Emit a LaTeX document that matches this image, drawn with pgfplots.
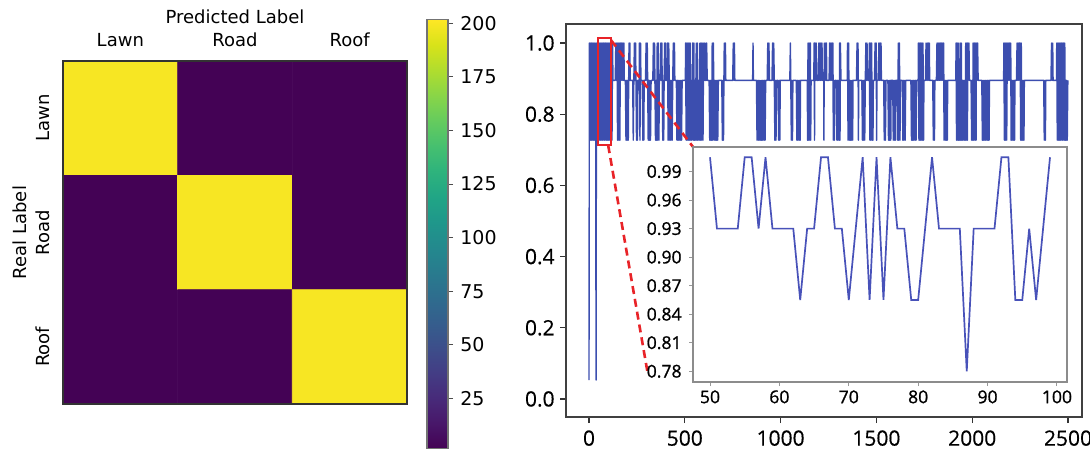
\documentclass[border=0pt]{standalone}
\usepackage{fontspec}
\setmainfont{DejaVu Sans}
\newfontfamily\osans[FakeBold=0.4]{Open Sans}
\newfontfamily\osansb[FakeBold=1.0]{Open Sans}
\usepackage{pgfplots}
\pgfplotsset{compat=1.18}
\definecolor{lineblue}{RGB}{60,78,175}
\definecolor{insetblue}{RGB}{72,82,185}
\definecolor{zoomred}{RGB}{232,35,40}
\pgfkeys{/pgf/number format/1000 sep={}}
\begin{document}
\begin{tikzpicture}[x=1pt,y=1pt]
\path[use as bounding box] (0,0) rectangle (545,226);
% ---------------- confusion matrix ----------------
\begin{axis}[at={(31.5pt,24pt)}, anchor=south west, scale only axis,
  width=172pt, height=171.5pt,
  xmin=-0.5, xmax=2.5, ymin=-0.5, ymax=2.5, y dir=reverse,
  xtick={0,1,2}, ytick={0,1,2},
  xticklabels={Lawn,Road,Roof}, yticklabels={Lawn,Road,Roof},
  xticklabel pos=top, major tick length=0pt,
  colormap/viridis, point meta min=1.6, point meta max=201.8,
  axis on top, axis line style={black!80, line width=0.6pt},
  tick label style={font=\fontsize{9}{10}\selectfont, inner sep=0pt},
  xticklabel style={anchor=south}, xticklabel shift=7pt,
  yticklabel style={rotate=90, anchor=south}, yticklabel shift=6.5pt,
  xlabel={Predicted Label}, ylabel={Real Label},
  xlabel style={at={(axis description cs:0.5,1.1079)}, anchor=south, inner sep=0pt, font=\fontsize{9}{10}\selectfont},
  ylabel style={at={(axis description cs:-0.1047,0.5)}, anchor=south, inner sep=0pt, font=\fontsize{9}{10}\selectfont},
]
\addplot[matrix plot*, mesh/cols=3, point meta=explicit] table[meta=C]{
x y C
0 0 200
1 0 2
2 0 2
0 1 2
1 1 200
2 1 2
0 2 2
1 2 2
2 2 200
};
\end{axis}
% ---------------- colorbar ----------------
\begin{axis}[at={(213.5pt,1.75pt)}, anchor=south west, scale only axis,
  width=10.5pt, height=214.5pt,
  xmin=0, xmax=1, ymin=1.6, ymax=201.8,
  xtick=\empty, ytick={25,50,75,100,125,150,175,200},
  ytick pos=right, yticklabel pos=right, tick align=outside, major tick length=2.5pt,
  colormap/viridis, point meta min=1.6, point meta max=201.8,
  axis on top, axis line style={black!55, line width=0.6pt},
  ytick style={black!70, line width=0.5pt},
  yticklabel style={font=\fontsize{9.5}{11}\selectfont, inner sep=0pt},
  yticklabel shift=3.5pt,
  /pgf/number format/assume math mode=true,
]
\addplot[surf, shader=interp, point meta=y, mesh/cols=2] coordinates {(0,1.6) (1,1.6) (0,201.8) (1,201.8)};
\end{axis}
% ---------------- main series ----------------
\begin{axis}[at={(283pt,17.5pt)}, anchor=south west, scale only axis,
  width=258pt, height=196.5pt,
  xmin=-120, xmax=2573, ymin=-0.0506, ymax=1.0534,
  xtick={0,500,1000,1500,2000,2500}, ytick={0,0.2,0.4,0.6,0.8,1},
  tick align=outside, major tick length=3pt, tick pos=left,
  axis line style={black!75, line width=0.6pt},
  every tick/.style={black!80, line width=0.6pt},
  tick label style={font=\osans\fontsize{10.5}{12}\selectfont, inner sep=0pt},
  xticklabel shift=3.5pt, yticklabel shift=2.5pt,
  yticklabel style={/pgf/number format/.cd, fixed, fixed zerofill, precision=1},
  scaled ticks=false,
  /pgf/number format/assume math mode=true,
]
\addplot[lineblue, line width=0.7pt, line join=round] coordinates {
(0,.053)(2,1)(5,.727)(8,1)(11,.727)(14,1)(17,.727)(20,1)(23,.727)(26,1)(29,.727)(32,1)(35,.727)(37,.053)(39,1)(42,.727)(45,1)(48,.727)(51,1)(54,.727)(57,1)(60,.727)(63,1)(66,.727)(69,1)(72,.727)(75,1)(78,.727)(81,1)(84,.727)(87,1)(90,.727)(93,1)(96,.727)(99,1)(102,.727)(105,1)(108,.727)(111,1)(114,.727)(117,1)(120,.727)(123,1)(125,.895)
(137,.895)(140,1)(143,.895)(146,1)(149,.727)(152,1)(155,.727)(158,1)(161,.727)(164,1)(167,.895)(170,1)(173,.895)(176,1)(179,.895)(182,1)(184,.895)
(190,.895)(193,.727)(196,.895)(199,.727)(202,.895)(205,.727)(207,.895)(209,1)(211,.895)(213,1)(215,.895)
(228,.895)(231,.727)(234,.895)(237,1)(240,.895)(243,1)(245,.895)(248,.727)(251,.895)(253,.727)(255,.895)
(262,.895)(263,1)(266,.727)(269,1)(271,.895)
(278,.895)(281,.727)(284,.895)(286,.727)(288,.895)
(295,.895)(298,1)(301,.895)(304,1)(306,.895)(309,.727)(312,.895)(315,.727)(318,.895)(321,.727)(324,.895)
(333,.895)(336,1)(339,.895)(342,1)(344,.895)(347,.727)(350,.895)(353,.727)(355,.895)(356,1)(359,.727)(362,1)(365,.727)(367,.895)
(372,.895)(375,1)(378,.895)(380,1)(382,.895)(385,.727)(388,.895)(390,.727)(392,.895)(395,1)(398,.895)(400,1)(402,.895)
(409,.895)(410,1)(413,.727)(416,1)(419,.895)(422,.727)(425,.895)(428,.727)(431,.895)(434,.727)(437,.895)(440,1)(443,.895)(446,1)(448,.895)
(456,.895)(459,.727)(462,.895)(465,.727)(468,.895)(471,.727)(474,.895)(477,.727)(480,.895)(483,.727)(486,.895)
(503,.895)(504,1)(507,.727)(510,1)(513,.727)(516,1)(519,.727)(522,1)(525,.727)(528,1)(531,.727)(533,.895)(536,.727)(539,.895)
(541,1)(544,.727)(547,1)(550,.727)(552,.895)(555,.727)(558,.895)(560,1)(563,.727)(566,1)(569,.727)(572,.895)(575,.727)(578,.895)
(579,1)(582,.727)(585,1)(588,.727)(591,1)(593,.895)(595,.727)(597,.895)(599,1)(602,.895)(605,1)(607,.895)
(612,.895)(614,1)(617,.895)
(627,.895)(630,.727)(633,.895)(636,.727)(639,.895)(641,.727)(643,1)(646,.727)(649,1)(651,.895)(654,.727)(657,.895)(660,.727)(663,.895)(666,.727)(669,.895)(672,.727)(675,.895)
(693,.895)(696,.727)(699,.895)(702,.727)(704,.895)(706,1)(709,.895)(712,1)(714,.895)
(750,.895)(753,1)(756,.895)(759,1)(761,.895)
(854,.895)(856,1)(858,.895)
(874,.895)(877,.727)(880,.895)(883,.727)(886,.895)(889,.727)(892,.895)(895,.727)(898,.895)(901,.727)(904,.895)(907,.727)(910,.895)(913,.727)(916,.895)(919,.727)(922,.895)
(930,.895)(933,1)(936,.895)(939,1)(942,.895)
(955,.895)(958,1)(961,.895)(964,1)(967,.895)(970,.727)(973,.895)(976,.727)(979,.895)
(987,.895)(990,.727)(993,.895)(996,.727)(998,.895)
(1048,.895)(1051,1)(1053,.895)(1056,.727)(1059,.895)(1062,.727)(1064,.895)
(1082,.895)(1085,.727)(1088,.895)(1091,.727)(1094,.895)(1097,.727)(1100,.895)(1102,.727)(1104,.895)
(1139,.895)(1141,.727)(1143,1)(1146,.727)(1149,1)(1152,.727)(1155,1)(1157,.727)(1159,.895)
(1173,.895)(1175,1)(1177,.727)(1179,1)(1182,.895)(1185,1)(1188,.895)
(1196,.895)(1199,1)(1202,.895)(1205,1)(1208,.895)(1211,1)(1214,.895)(1216,1)(1218,.895)
(1225,.895)(1226,.727)(1228,1)(1231,.895)(1234,1)(1237,.895)(1239,1)(1241,.895)
(1253,.895)(1256,1)(1259,.895)(1262,1)(1265,.895)(1268,1)(1271,.895)(1273,1)(1275,.727)(1278,.895)(1281,.727)(1283,.895)
(1291,.895)(1294,.727)(1297,.895)(1300,.727)(1303,.895)(1306,.727)(1308,1)(1310,.727)(1312,1)(1315,.895)
(1348,.895)(1349,1)(1352,.727)(1355,1)(1358,.727)(1361,.895)(1364,.727)(1367,.895)(1370,.727)(1373,.895)(1376,.727)(1378,.895)
(1396,.895)(1399,1)(1402,.895)(1404,1)(1406,.727)(1408,.895)
(1424,.895)(1427,.727)(1430,.895)(1433,.727)(1436,.895)(1439,.727)(1442,.895)(1445,1)(1448,.895)(1451,1)(1454,.895)
(1462,.895)(1463,1)(1466,.727)(1469,1)(1472,.727)(1475,1)(1478,.727)(1480,.895)(1482,.727)(1484,.895)
(1490,.895)(1493,1)(1496,.895)(1499,1)(1501,.727)(1503,.895)
(1510,.895)(1513,1)(1516,.895)(1519,1)(1522,.895)(1524,1)(1526,.895)
(1538,.895)(1541,.727)(1544,.895)(1547,.727)(1550,.895)
(1560,.895)(1563,.727)(1566,.895)(1569,.727)(1572,.895)(1575,.727)(1577,.895)
(1585,.895)(1588,.727)(1591,.895)(1594,.727)(1597,.895)(1600,.727)(1602,.895)
(1610,.895)(1612,.727)(1614,1)(1617,.727)(1620,1)(1623,.727)(1625,.895)
(1635,.895)(1638,.727)(1641,.895)(1644,.727)(1647,.895)(1650,.727)(1653,.895)
(1680,.895)(1683,.727)(1686,.895)(1689,.727)(1692,.895)(1695,.727)(1698,.895)(1701,.727)(1704,.895)(1707,.727)(1710,.895)
(1718,.895)(1719,1)(1722,.727)(1725,1)(1728,.727)(1731,1)(1734,.727)(1737,1)(1740,.727)(1743,1)(1746,.727)(1748,.895)
(1756,.895)(1759,1)(1762,.895)(1765,1)(1768,.895)(1771,1)(1774,.895)(1776,1)(1778,.895)
(1794,.895)(1797,.727)(1800,.895)(1803,.727)(1805,.895)
(1813,.895)(1816,1)(1819,.895)(1822,1)(1825,.895)(1828,1)(1831,.895)(1834,1)(1837,.895)(1840,1)(1843,.895)(1846,1)(1849,.895)(1851,1)(1853,.727)(1856,.895)(1859,.727)(1862,.895)(1865,.727)(1868,.895)(1870,.727)(1872,.895)
(1914,.895)(1916,1)(1918,.727)(1921,1)(1924,.727)(1927,1)(1929,.727)(1932,.895)(1935,.727)(1937,1)(1940,.727)(1943,1)(1946,.727)(1949,.895)(1952,.727)(1955,.895)(1958,.727)(1961,.895)(1964,.727)(1966,1)(1969,.727)(1972,1)(1975,.727)(1977,1)(1980,.895)(1983,1)(1985,.895)
(1994,.895)(1997,.727)(2000,.895)(2003,.727)(2005,1)(2008,.727)(2011,1)(2014,.727)(2017,1)(2020,.727)(2022,1)(2025,.895)(2028,1)(2031,.895)
(2050,.895)(2053,.727)(2056,.895)(2059,.727)(2062,.895)(2065,.727)(2068,.895)(2071,.727)(2074,.895)(2077,.727)(2080,.895)(2083,.727)(2086,.895)(2088,.727)(2090,.895)
(2164,.895)(2165,1)(2168,.727)(2171,1)(2174,.727)(2177,1)(2180,.727)(2183,1)(2186,.895)(2189,1)(2192,.895)(2195,1)(2198,.895)(2201,1)(2203,.727)(2206,.895)(2209,.727)(2212,.895)(2215,.727)(2218,.895)(2221,.727)(2223,.895)
(2231,.895)(2234,1)(2237,.895)(2240,1)(2243,.895)(2246,1)(2249,.895)(2250,1)(2253,.727)(2256,1)(2259,.727)(2262,.895)(2265,.727)(2268,.895)(2270,.727)(2272,.895)
(2373,.895)(2376,.727)(2379,.895)(2382,.727)(2384,.895)
(2411,.895)(2414,1)(2417,.895)(2420,1)(2422,.895)
(2440,.895)(2441,1)(2444,.727)(2447,1)(2450,.727)(2453,1)(2456,.727)(2459,1)(2462,.727)(2465,1)(2468,.727)(2471,1)(2474,.727)(2477,1)(2480,.727)(2483,1)(2486,.727)(2488,.895)(2490,.727)(2493,.895)(2496,.727)(2499,.895)
};
\draw[zoomred, line width=1pt] (axis cs:47,0.713) rectangle (axis cs:115,1.013);
\draw[zoomred, line width=1.3pt, dash pattern=on 4pt off 2.5pt] (axis cs:115,1.008) -- (axis cs:543,0.708);
\draw[zoomred, line width=1.3pt, dash pattern=on 4pt off 2.5pt] (axis cs:100,0.713) -- (axis cs:308,0.067);
\end{axis}
% ---------------- inset ----------------
\begin{axis}[at={(346.5pt,35pt)}, anchor=south west, scale only axis,
  width=187pt, height=117.5pt,
  xmin=47.55, xmax=101.45, ymin=0.7687, ymax=1.0158,
  xtick={50,60,70,80,90,100}, ytick={0.78,0.81,0.84,0.87,0.90,0.93,0.96,0.99},
  axis background/.style={fill=white},
  axis line style={black!45, line width=0.6pt},
  tick align=outside, major tick length=2pt, tick pos=left,
  every tick/.style={black!40, line width=0.5pt},
  tick label style={font=\osansb\fontsize{8.8}{10}\selectfont, inner sep=0pt},
  xticklabel shift=2pt, yticklabel shift=3.5pt,
  yticklabel style={/pgf/number format/.cd, fixed, fixed zerofill, precision=2},
  /pgf/number format/assume math mode=true,
]
\addplot[insetblue, line width=0.85pt] coordinates {
(50,1.005)(51,.93)(52,.93)(53,.93)(54,.93)(55,1.005)(56,1.005)(57,.93)(58,1.005)(59,.93)
(60,.93)(61,.93)(62,.93)(63,.855)(64,.93)(65,.93)(66,1.005)(67,1.005)(68,.93)(69,.93)
(70,.855)(71,.93)(72,1.005)(73,.855)(74,1.005)(75,.855)(76,1.005)(77,.93)(78,.93)(79,.855)
(80,.855)(81,.93)(82,1.005)(83,.93)(84,.93)(85,.93)(86,.93)(87,.78)(88,.93)(89,.93)
(90,.93)(91,.93)(92,1.005)(93,1.005)(94,.855)(95,.855)(96,.93)(97,.855)(98,.93)(99,1.005)
};
\end{axis}
\end{tikzpicture}
\end{document}
